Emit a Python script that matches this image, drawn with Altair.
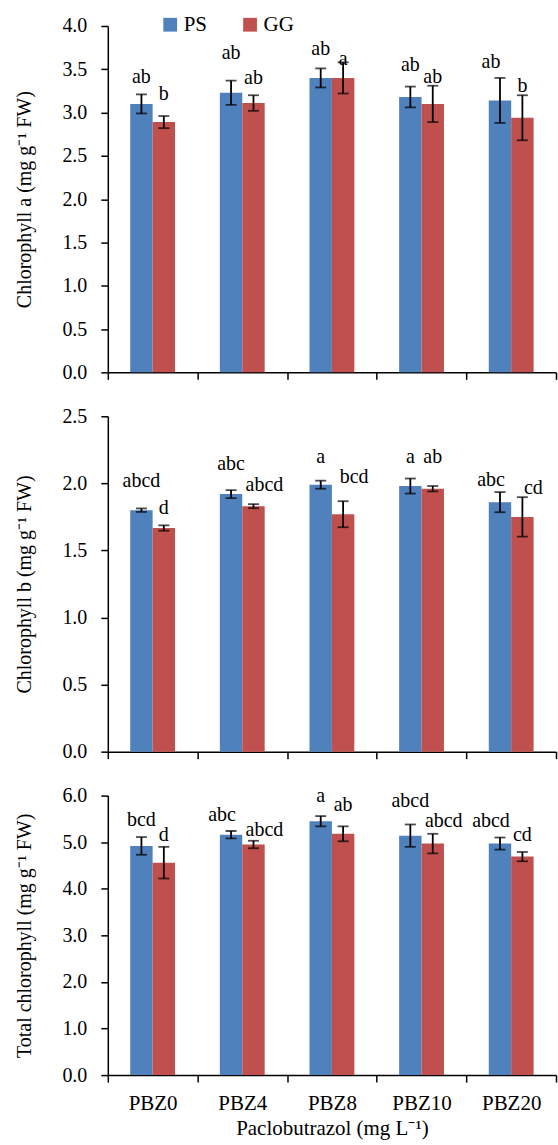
import altair as alt
import pandas as pd

categories = ["PBZ0", "PBZ4", "PBZ8", "PBZ10", "PBZ20"]
series_names = ["PS", "GG"]
colors = ["#4F81BD", "#C0504D"]

# Chlorophyll a
chla_ps = [3.10, 3.23, 3.40, 3.18, 3.14]
chla_ps_err = [0.11, 0.14, 0.11, 0.12, 0.26]
chla_gg = [2.89, 3.11, 3.40, 3.10, 2.94]
chla_gg_err = [0.07, 0.09, 0.18, 0.21, 0.26]
chla_ps_let = ["ab", "ab", "ab", "ab", "ab"]
chla_gg_let = ["b", "ab", "a", "ab", "b"]
chla_ps_lab = [3.34, 3.62, 3.66, 3.48, 3.51]
chla_gg_lab = [3.14, 3.33, 3.55, 3.34, 3.24]
chla_ps_nudge = [0, 0, 0, 0, -1]
chla_gg_nudge = [0, 0, 0, 0, 0]

# Chlorophyll b
chlb_ps = [1.80, 1.92, 1.99, 1.98, 1.86]
chlb_ps_err = [0.013, 0.03, 0.03, 0.056, 0.075]
chlb_gg = [1.667, 1.83, 1.77, 1.96, 1.75]
chlb_gg_err = [0.02, 0.015, 0.097, 0.02, 0.147]
chlb_ps_let = ["abcd", "abc", "a", "a", "abc"]
chlb_gg_let = ["d", "abcd", "bcd", "ab", "cd"]
chlb_ps_lab = [1.976, 2.10, 2.15, 2.15, 1.98]
chlb_gg_lab = [1.77, 1.94, 2.00, 2.15, 1.92]
chlb_ps_nudge = [0, 0, 0, 0, -1]
chlb_gg_nudge = [0, 1, 1, 0, 1]

# Total chlorophyll
tot_ps = [4.92, 5.16, 5.45, 5.14, 4.97]
tot_ps_err = [0.19, 0.08, 0.11, 0.24, 0.13]
tot_gg = [4.56, 4.95, 5.18, 4.97, 4.69]
tot_gg_err = [0.34, 0.08, 0.16, 0.21, 0.10]
tot_ps_let = ["bcd", "abc", "a", "abcd", "abcd"]
tot_gg_let = ["d", "abcd", "ab", "abcd", "cd"]
tot_ps_lab = [5.35, 5.45, 5.86, 5.76, 5.33]
tot_gg_lab = [5.03, 5.13, 5.67, 5.33, 5.03]
tot_ps_nudge = [0, -1, 0, 0, -1]
tot_gg_nudge = [0, 1, 0, 1, 0]

FONT = "Liberation Serif"
W = 449


def make_df(ps, ps_err, gg, gg_err, ps_let, gg_let, ps_lab, gg_lab, ps_n, gg_n):
    rows = []
    for i, c in enumerate(categories):
        rows.append(dict(cat=c, series="PS", value=ps[i], lo=ps[i] - ps_err[i],
                         hi=ps[i] + ps_err[i], letter=ps_let[i], lab=ps_lab[i], nudge=ps_n[i]))
        rows.append(dict(cat=c, series="GG", value=gg[i], lo=gg[i] - gg_err[i],
                         hi=gg[i] + gg_err[i], letter=gg_let[i], lab=gg_lab[i], nudge=gg_n[i]))
    return pd.DataFrame(rows)


def panel(df, ymax, ystep, height, ytitle, show_x, show_legend):
    xaxis = alt.Axis(
        title="Paclobutrazol (mg L\u207b\u00b9)" if show_x else None,
        labels=show_x, labelAngle=0, tickBand="extent", tickSize=7,
        tickColor="black", tickWidth=1.5, domainColor="black", domainWidth=1.5,
        labelFontSize=21, labelColor="black", labelPadding=10,
        titleFontSize=21, titleFontWeight="normal", titleColor="black",
        titlePadding=5,
    )
    n = int(round(ymax / ystep))
    yvals = [round(i * ystep, 2) for i in range(n + 1)]
    yaxis = alt.Axis(
        title=ytitle, values=yvals, format=".1f", grid=False, tickSize=7,
        tickColor="black", tickWidth=1.5, domainColor="black", domainWidth=1.5,
        labelFontSize=20, labelColor="black", labelPadding=14,
        titleFontSize=20, titleFontWeight="normal", titleColor="black",
        titleX=-83, titleBaseline="middle",
    )
    x = alt.X("cat:N", sort=categories, axis=xaxis,
              scale=alt.Scale(paddingInner=0, paddingOuter=0))
    xo = alt.XOffset("series:N", sort=series_names,
                     scale=alt.Scale(domain=series_names, paddingInner=0, paddingOuter=1))
    yscale = alt.Scale(domain=[0, ymax], nice=False, zero=True)
    if show_legend:
        legend = alt.Legend(
            title=None, orient="none", legendX=52, legendY=-12, direction="horizontal",
            symbolType="square", symbolSize=190, symbolStrokeWidth=0,
            labelFontSize=21, labelColor="black", labelOffset=3, columnPadding=32,
        )
    else:
        legend = None
    color = alt.Color("series:N", sort=series_names,
                      scale=alt.Scale(domain=series_names, range=colors), legend=legend)
    base = alt.Chart(df)
    bars = base.mark_bar().encode(x=x, xOffset=xo, y=alt.Y("value:Q", scale=yscale, axis=yaxis), color=color)
    rules = base.mark_rule(color="black", strokeWidth=1.8).encode(
        x=x, xOffset=xo, y=alt.Y("lo:Q", scale=yscale), y2="hi:Q")
    cap_lo = base.mark_tick(color="black", size=11, thickness=1.8).encode(
        x=x, xOffset=xo, y=alt.Y("lo:Q", scale=yscale))
    cap_hi = base.mark_tick(color="black", size=11, thickness=1.8).encode(
        x=x, xOffset=xo, y=alt.Y("hi:Q", scale=yscale))
    layers = [bars, rules, cap_lo, cap_hi]
    for nv, dx in [(0, 0), (-1, -9), (1, 11)]:
        layers.append(
            base.transform_filter(alt.datum.nudge == nv)
            .mark_text(fontSize=20, color="black", baseline="alphabetic", align="center", dx=dx)
            .encode(x=x, xOffset=xo, y=alt.Y("lab:Q", scale=yscale), text="letter:N")
        )
    return alt.layer(*layers).properties(width=W, height=height)


p1 = panel(make_df(chla_ps, chla_ps_err, chla_gg, chla_gg_err, chla_ps_let, chla_gg_let,
                   chla_ps_lab, chla_gg_lab, chla_ps_nudge, chla_gg_nudge),
           4.0, 0.5, 347, "Chlorophyll a (mg g\u207b\u00b9 FW)", False, True)
p2 = panel(make_df(chlb_ps, chlb_ps_err, chlb_gg, chlb_gg_err, chlb_ps_let, chlb_gg_let,
                   chlb_ps_lab, chlb_gg_lab, chlb_ps_nudge, chlb_gg_nudge),
           2.5, 0.5, 336, "Chlorophyll  b (mg g\u207b\u00b9 FW)", False, False)
p3 = panel(make_df(tot_ps, tot_ps_err, tot_gg, tot_gg_err, tot_ps_let, tot_gg_let,
                   tot_ps_lab, tot_gg_lab, tot_ps_nudge, tot_gg_nudge),
           6.0, 1.0, 280, "Total chlorophyll (mg g\u207b\u00b9 FW)", True, False)

chart = alt.vconcat(p1, p2, p3, spacing=44, bounds="flush").resolve_legend(color="independent").properties(
    padding={"left": 15, "top": 13, "right": 1, "bottom": 2}
).configure(font=FONT).configure_view(strokeWidth=0)

chart.save("out.html", embed_options={"renderer": "svg", "actions": False})
